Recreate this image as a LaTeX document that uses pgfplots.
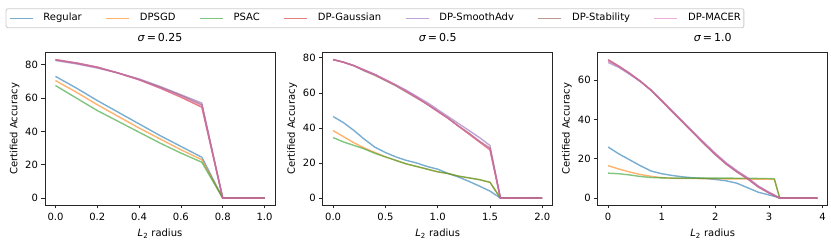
\documentclass[border=0pt]{standalone}
\usepackage{fontspec}
\setmainfont{DejaVu Sans}
\usepackage{pgfplots}
\pgfplotsset{compat=1.18}
\definecolor{cblue}{HTML}{1F77B4}
\definecolor{corange}{HTML}{FF7F0E}
\definecolor{cgreen}{HTML}{2CA02C}
\definecolor{cred}{HTML}{D62728}
\definecolor{cpurple}{HTML}{9467BD}
\definecolor{cbrown}{HTML}{8C564B}
\definecolor{cpink}{HTML}{E377C2}
\pgfplotsset{
  panel/.style={
    width=230pt, height=152.3pt, scale only axis,
    font=\fontsize{10}{12}\selectfont,
    axis line style={line width=0.8pt, black!85},
    tick style={line width=0.8pt, black!85},
    tick align=outside, major tick length=3.5pt,
    tick pos=left,
    /pgf/number format/assume math mode=true,
    ticklabel style={font=\fontsize{10}{12}\selectfont},
    x tick label style={yshift=-1.5pt},
    ylabel={Certified Accuracy},
    xlabel={\textit{L}\textsubscript{2} radius},
    ylabel style={at={(axis description cs:-0.1326,0.5)}, anchor=center},
    xlabel style={at={(axis description cs:0.5,0)}, anchor=base, yshift=-31.5pt},
    title style={at={(axis description cs:0.5,1)}, anchor=base, yshift=5pt, font=\fontsize{11}{13}\selectfont},
    every axis plot/.append style={line width=1.4pt, draw opacity=0.6, mark=none, line join=round},
    ytick={0,20,40,60,80},
  }
}
\begin{document}
\begin{tikzpicture}
\useasboundingbox (0,0) rectangle (831pt,-245pt);
% ---------------- panel 1
\begin{axis}[panel, at={(45pt,-205pt)}, anchor=south west,
  xmin=-0.05, xmax=1.05, ymin=-4.15, ymax=87.2,
  xtick={0,0.2,0.4,0.6,0.8,1.0},
  x tick label style={/pgf/number format/.cd, fixed, fixed zerofill, precision=1},
  title={\textit{σ}\,=\,0.25},
  legend columns=7,
  legend image code/.code={\draw[#1] (0pt,0pt) -- (23pt,0pt);},
  legend style={at={(axis description cs:-0.171,1.2915)}, anchor=north west,
    draw=black!20, line width=0.8pt, rounded corners=2pt,
    inner xsep=3pt, inner ysep=4.5pt,
    font=\fontsize{10}{12}\selectfont,
    nodes={inner xsep=0pt, inner ysep=0pt, text height=7.5pt, text depth=2.5pt},
    /tikz/every odd column/.append style={column sep=10pt},
    /tikz/every even column/.append style={column sep=23.7pt}},
]
\addplot[cblue] coordinates {(0,73)(0.1,66)(0.2,58.5)(0.3,51.5)(0.4,44.5)(0.5,37.5)(0.6,31)(0.7,24.5)(0.8,0)(0.9,0)(1.0,0)};
\addlegendentry{Regular}
\addplot[corange] coordinates {(0,70.5)(0.1,63.5)(0.2,56)(0.3,49)(0.4,42)(0.5,35.5)(0.6,29)(0.7,23)(0.8,0)(0.9,0)(1.0,0)};
\addlegendentry{DPSGD}
\addplot[cgreen] coordinates {(0,67.5)(0.1,60)(0.2,52.5)(0.3,46)(0.4,39.5)(0.5,33)(0.6,27)(0.7,21.5)(0.8,0)(0.9,0)(1.0,0)};
\addlegendentry{PSAC}
\addplot[cred] coordinates {(0,83)(0.1,81)(0.2,78.5)(0.3,75)(0.4,71)(0.5,66)(0.6,60.5)(0.7,54.5)(0.8,0)(0.9,0)(1.0,0)};
\addlegendentry{DP-Gaussian}
\addplot[cpurple] coordinates {(0,82.5)(0.1,80.5)(0.2,78)(0.3,75)(0.4,71.5)(0.5,67)(0.6,62)(0.7,57)(0.8,0)(0.9,0)(1.0,0)};
\addlegendentry{DP-SmoothAdv}
\addplot[cbrown] coordinates {(0,83)(0.1,81)(0.2,78.5)(0.3,75)(0.4,71)(0.5,66.5)(0.6,61.5)(0.7,56)(0.8,0)(0.9,0)(1.0,0)};
\addlegendentry{DP-Stability}
\addplot[cpink] coordinates {(0,83)(0.1,81)(0.2,78.5)(0.3,75)(0.4,71)(0.5,66)(0.6,61)(0.7,55.5)(0.8,0)(0.9,0)(1.0,0)};
\addlegendentry{DP-MACER}
\end{axis}
% ---------------- panel 2
\begin{axis}[panel, at={(322.7pt,-205pt)}, anchor=south west,
  xmin=-0.1, xmax=2.1, ymin=-3.95, ymax=82.95,
  xtick={0,0.5,1.0,1.5,2.0},
  x tick label style={/pgf/number format/.cd, fixed, fixed zerofill, precision=1},
  title={\textit{σ}\,=\,0.5},
]
\addplot[cblue] coordinates {(0,46.5)(0.1,43)(0.2,38.5)(0.3,33.5)(0.4,29)(0.5,26)(0.6,23.5)(0.7,21.5)(0.8,20)(0.9,18)(1.0,16.5)(1.1,14)(1.2,12)(1.3,9.5)(1.4,6.8)(1.5,4)(1.6,0)(1.7,0)(1.8,0)(1.9,0)(2.0,0)};
\addplot[corange] coordinates {(0,38.5)(0.1,35)(0.2,31.5)(0.3,28.5)(0.4,26)(0.5,23.5)(0.6,21.5)(0.7,19.5)(0.8,18)(0.9,16.5)(1.0,15)(1.1,14)(1.2,12.5)(1.3,11.5)(1.4,10.5)(1.5,9)(1.6,0)(1.7,0)(1.8,0)(1.9,0)(2.0,0)};
\addplot[cgreen] coordinates {(0,34.5)(0.1,32)(0.2,30)(0.3,28)(0.4,25.5)(0.5,23.5)(0.6,21.5)(0.7,19.5)(0.8,18)(0.9,16.5)(1.0,15)(1.1,14)(1.2,12.5)(1.3,11.5)(1.4,10.5)(1.5,9)(1.6,0)(1.7,0)(1.8,0)(1.9,0)(2.0,0)};
\addplot[cred] coordinates {(0,79)(0.1,77.5)(0.2,75.5)(0.3,73)(0.4,70.5)(0.5,67.5)(0.6,64.5)(0.7,61)(0.8,57.5)(0.9,53.5)(1.0,49.5)(1.1,45.5)(1.2,41)(1.3,36.5)(1.4,32)(1.5,27.5)(1.6,0)(1.7,0)(1.8,0)(1.9,0)(2.0,0)};
\addplot[cpurple] coordinates {(0,79)(0.1,77.5)(0.2,75.5)(0.3,73)(0.4,70.5)(0.5,67.5)(0.6,64.5)(0.7,61.5)(0.8,58)(0.9,54.5)(1.0,50.5)(1.1,46.5)(1.2,42.5)(1.3,38.5)(1.4,34.5)(1.5,30)(1.6,0)(1.7,0)(1.8,0)(1.9,0)(2.0,0)};
\addplot[cbrown] coordinates {(0,79)(0.1,77.5)(0.2,75.5)(0.3,72.5)(0.4,70)(0.5,67)(0.6,64)(0.7,60.5)(0.8,57)(0.9,53.5)(1.0,49.5)(1.1,45.5)(1.2,41)(1.3,37)(1.4,32.5)(1.5,28.5)(1.6,0)(1.7,0)(1.8,0)(1.9,0)(2.0,0)};
\addplot[cpink] coordinates {(0,79)(0.1,77.5)(0.2,75.5)(0.3,73)(0.4,70.5)(0.5,67.5)(0.6,64.5)(0.7,61)(0.8,57.5)(0.9,53.5)(1.0,49.5)(1.1,45.5)(1.2,41)(1.3,36.5)(1.4,32)(1.5,28)(1.6,0)(1.7,0)(1.8,0)(1.9,0)(2.0,0)};
\end{axis}
% ---------------- panel 3
\begin{axis}[panel, at={(597.7pt,-205pt)}, anchor=south west,
  xmin=-0.195, xmax=4.095, ymin=-3.5, ymax=74,
  xtick={0,1,2,3,4}, ytick={0,20,40,60},
  ylabel style={at={(axis description cs:-0.1338,0.5)}},
  title={\textit{σ}\,=\,1.0},
]
\addplot[cblue] coordinates {(0,26)(0.2,22.5)(0.4,19.5)(0.6,16.5)(0.8,13.8)(1.0,12.4)(1.2,11.5)(1.4,10.8)(1.6,10.3)(1.8,10)(2.0,9.5)(2.2,8.8)(2.4,7.6)(2.6,5.3)(2.8,3)(3.0,1.6)(3.1,0.9)(3.2,0)(3.4,0)(3.6,0)(3.8,0)(3.9,0)};
\addplot[corange] coordinates {(0,16.5)(0.2,14.8)(0.4,13.3)(0.6,12)(0.8,11.1)(1.0,10.4)(1.2,10.1)(1.4,10)(1.6,10)(1.8,9.9)(2.0,9.9)(2.2,9.8)(2.4,9.8)(2.6,9.7)(2.8,9.7)(3.0,9.6)(3.1,9.5)(3.2,0)(3.4,0)(3.6,0)(3.8,0)(3.9,0)};
\addplot[cgreen] coordinates {(0,12.7)(0.2,12.4)(0.4,11.8)(0.6,11)(0.8,10.5)(1.0,10.3)(1.2,10.2)(1.4,10.2)(1.6,10.2)(1.8,10.2)(2.0,10.2)(2.2,10.2)(2.4,10.1)(2.6,10.1)(2.8,10)(3.0,10)(3.1,9.8)(3.2,0)(3.4,0)(3.6,0)(3.8,0)(3.9,0)};
\addplot[cred] coordinates {(0,70)(0.2,67)(0.4,63.5)(0.6,59.5)(0.8,55)(1.0,49.5)(1.2,44)(1.4,38.5)(1.6,33)(1.8,27.5)(2.0,22.3)(2.2,17.5)(2.4,13.5)(2.6,10)(2.8,5.8)(3.0,2.7)(3.1,1.4)(3.2,0)(3.4,0)(3.6,0)(3.8,0)(3.9,0)};
\addplot[cpurple] coordinates {(0,69)(0.2,66.5)(0.4,63)(0.6,59.3)(0.8,55)(1.0,49.8)(1.2,44.3)(1.4,38.8)(1.6,33.3)(1.8,28)(2.0,22.8)(2.2,18)(2.4,14)(2.6,10.4)(2.8,6.2)(3.0,3)(3.1,1.6)(3.2,0)(3.4,0)(3.6,0)(3.8,0)(3.9,0)};
\addplot[cbrown] coordinates {(0,70.5)(0.2,67.2)(0.4,63.5)(0.6,59.5)(0.8,54.8)(1.0,49.3)(1.2,43.8)(1.4,38.3)(1.6,32.8)(1.8,27.3)(2.0,22)(2.2,17.3)(2.4,13.3)(2.6,9.8)(2.8,5.6)(3.0,2.6)(3.1,1.3)(3.2,0)(3.4,0)(3.6,0)(3.8,0)(3.9,0)};
\addplot[cpink] coordinates {(0,70.3)(0.2,67)(0.4,63.5)(0.6,59.5)(0.8,55)(1.0,49.5)(1.2,44)(1.4,38.5)(1.6,33)(1.8,27.5)(2.0,22.3)(2.2,17.5)(2.4,13.5)(2.6,10)(2.8,5.8)(3.0,2.7)(3.1,1.4)(3.2,0)(3.4,0)(3.6,0)(3.8,0)(3.9,0)};
\end{axis}
\end{tikzpicture}
\end{document}
